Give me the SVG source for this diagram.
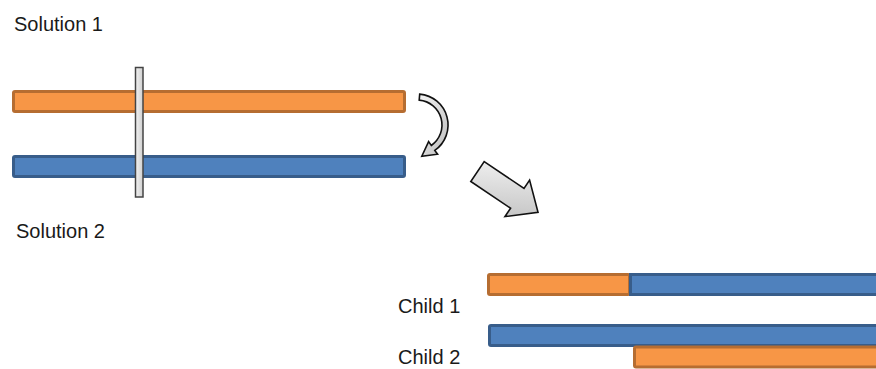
<svg xmlns="http://www.w3.org/2000/svg" width="876" height="369" viewBox="0 0 876 369">
<defs>
<linearGradient id="gray" x1="0" y1="0" x2="1" y2="1">
<stop offset="0" stop-color="#f4f4f4"/>
<stop offset="1" stop-color="#bdbdbd"/>
</linearGradient>
<linearGradient id="cutg" x1="0" y1="0" x2="1" y2="0">
<stop offset="0" stop-color="#f2f2f2"/>
<stop offset="1" stop-color="#cfcfcf"/>
</linearGradient>
</defs>
<style>
text{font-family:"Liberation Sans",Arial,sans-serif;font-size:20px;fill:#1a1a1a}
.or{fill:#F79646;stroke:#B66D31;stroke-width:3}
.bl{fill:#4F81BD;stroke:#385D8A;stroke-width:3}
.ar{fill:url(#gray);stroke:#111;stroke-width:1.6;stroke-linejoin:miter}
</style>
<rect width="876" height="369" fill="#fff"/>
<g id="solution1">
<text x="14" y="31">Solution 1</text>
<rect class="or" x="13.5" y="91.5" width="391" height="20" rx="1.5"/>
</g>
<g id="solution2">
<text x="16" y="238">Solution 2</text>
<rect class="bl" x="13.5" y="156.5" width="391" height="20" rx="1.5"/>
</g>
<g id="cut">
<rect x="135.5" y="67.5" width="7.5" height="129.5" fill="url(#cutg)" stroke="#444" stroke-width="1.5"/>
</g>
<g id="connectors">
<path class="ar" d="M419.7,94.1 A31,31 0 0 1 434.8,150.4 L437.6,154.2 L421.8,156.2 L428.6,141.6 L431.3,145.5 A25,25 0 0 0 419.2,100.1 Z"/>
<path class="ar" transform="translate(477.5,171.5) rotate(34)" d="M0,-12 L48,-12 L48,-22 L73,0 L48,22 L48,12 L0,12 Z"/>
</g>
<g id="child1">
<text x="398" y="313">Child 1</text>
<rect class="or" x="488.5" y="274.5" width="141" height="20" rx="1.5"/>
<rect class="bl" x="630.5" y="274.5" width="260" height="20"/>
</g>
<g id="child2">
<text x="398" y="364">Child 2</text>
<rect class="bl" x="489.5" y="325.5" width="400" height="20" rx="1.5"/>
<rect class="or" x="634.5" y="347" width="260" height="20" rx="1.5"/>
</g>
</svg>
